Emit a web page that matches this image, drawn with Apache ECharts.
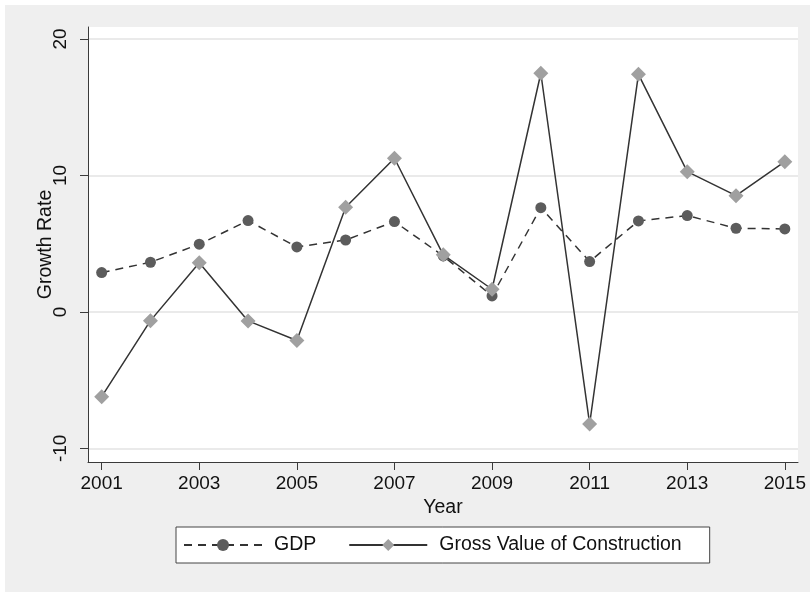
<!DOCTYPE html>
<html><head><meta charset="utf-8">
<script src="https://cdn.jsdelivr.net/npm/echarts@6/dist/echarts.min.js"></script>
<style>html,body{margin:0;padding:0;background:#fff;}#chart{position:absolute;left:5px;top:5px;width:805px;height:587px;}</style>
</head><body><div id="chart"></div>
<script>
const years = [2001,2002,2003,2004,2005,2006,2007,2008,2009,2010,2011,2012,2013,2014,2015];
const gdp = [2.88,3.64,4.96,6.69,4.76,5.27,6.62,4.10,1.17,7.64,3.69,6.67,7.06,6.13,6.08];
const construction = [-6.21,-0.64,3.61,-0.66,-2.10,7.67,11.26,4.18,1.66,17.49,-8.21,17.41,10.28,8.52,11.01];
const xTicks = [2001,2003,2005,2007,2009,2011,2013,2015];
const yTicks = [-10,0,10,20];
const seriesNames = ['GDP','Gross Value of Construction'];

const FONT = 'Liberation Sans, Arial, sans-serif';
const TXT = '#111';
const chart = echarts.init(document.getElementById('chart'));
chart.setOption({
  backgroundColor: '#efefef',
  animation: false,
  grid: {left: 83, top: 22, right: 12, bottom: 130, show: true, backgroundColor: '#fff', borderWidth: 0},
  legend: {
    left: 171, top: 522, orient: 'horizontal',
    data: seriesNames,
    backgroundColor: '#fff', borderColor: '#444', borderWidth: 1,
    padding: [8, 28, 8, 7],
    itemWidth: 78, itemHeight: 15, itemGap: 32,
    textStyle: {fontFamily: FONT, fontSize: 19.5, color: TXT, padding: [0,0,0,7]}
  },
  xAxis: {
    type: 'value', min: 2000.72, max: 2015.27,
    name: 'Year', nameLocation: 'middle', nameGap: 31,
    nameTextStyle: {fontFamily: FONT, fontSize: 19.5, color: TXT},
    axisLine: {show: true, onZero: false, lineStyle: {color: '#3a3a3a', width: 1}},
    axisTick: {show: true, length: 8, customValues: xTicks, lineStyle: {color: '#3a3a3a'}},
    axisLabel: {customValues: xTicks, margin: 12, fontFamily: FONT, fontSize: 19, color: TXT, formatter: v => String(v)},
    splitLine: {show: false}
  },
  yAxis: {
    type: 'value', min: -11, max: 20.88,
    name: 'Growth Rate', nameLocation: 'middle', nameGap: 32, nameMoveOverlap: false,
    nameTextStyle: {fontFamily: FONT, fontSize: 19.5, color: TXT},
    axisLine: {show: true, onZero: false, lineStyle: {color: '#3a3a3a', width: 1}},
    axisTick: {show: true, length: 8, customValues: yTicks, lineStyle: {color: '#3a3a3a'}},
    axisLabel: {customValues: yTicks, rotate: 90, margin: 18, fontFamily: FONT, fontSize: 19, color: TXT},
    splitLine: {show: true, lineStyle: {color: '#eaeaea', width: 2}}
  },
  series: [
    {
      name: seriesNames[0], type: 'line',
      data: years.map((y, i) => [y, gdp[i]]),
      symbol: 'circle', symbolSize: 11,
      itemStyle: {color: '#5c5c5c'},
      lineStyle: {color: '#333', width: 1.5, type: [8, 6]}
    },
    {
      name: seriesNames[1], type: 'line',
      data: years.map((y, i) => [y, construction[i]]),
      symbol: 'diamond', symbolSize: 15,
      itemStyle: {color: '#a0a0a0'},
      lineStyle: {color: '#333', width: 1.5, type: 'solid'}
    }
  ]
});
</script></body></html>
